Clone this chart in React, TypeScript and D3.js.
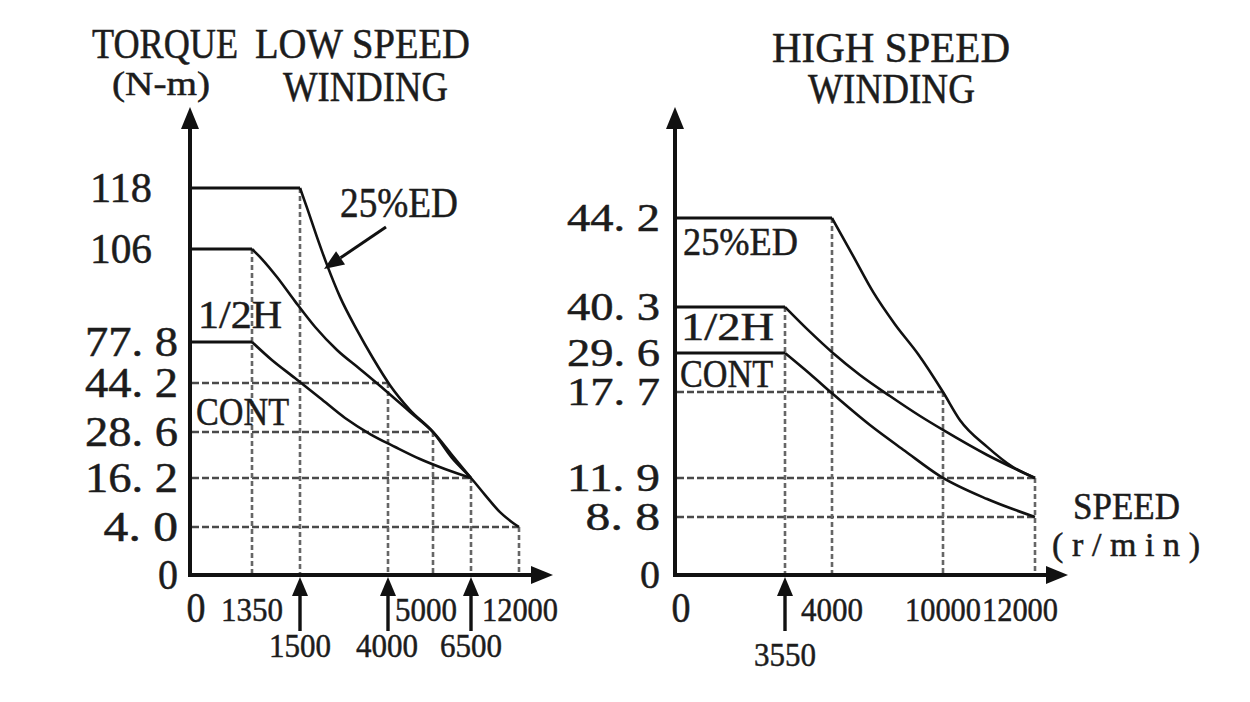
import React from "react";
import * as d3 from "d3";

type Pt = [number, number];

// ---------------- LOW SPEED WINDING ----------------
const lowSpeedTicks = [0, 1350, 1500, 4000, 5000, 6500, 12000];
const lowTorqueTicks = [0, 4.0, 16.2, 28.6, 44.2, 77.8, 106, 118];
const lowTorqueLabels = ["0", "4. 0", "16. 2", "28. 6", "44. 2", "77. 8", "106", "118"];
const lowSpeedLabels = [0, 1350, 5000, 12000];
const lowSpeedMarked = [1500, 4000, 6500];

const low25ED: Pt[] = [
  [0, 118], [1500, 118], [1700, 114.1], [1980, 108.4], [2270, 101.1], [2640, 91.4],
  [3120, 81.4], [3570, 64.7], [4040, 43.6], [4490, 35.6], [5000, 28.6], [5750, 21.6],
  [6500, 16.2], [8100, 12.0], [9820, 7.7], [11200, 5.2], [12000, 4.0],
];
const low12H: Pt[] = [
  [0, 106], [1350, 106], [1381, 102.95], [1428, 97.5], [1484, 90.2], [1930, 82.35],
  [2550, 71.25], [3200, 55.7], [3910, 41.98], [4490, 34.97], [5000, 28.6], [5750, 22.4],
  [6500, 16.2],
];
const lowCont: Pt[] = [
  [0, 77.8], [1350, 77.8], [1412, 63.05], [1484, 48.3], [2070, 39.43], [2780, 33.06],
  [3490, 28.06], [4160, 24.56], [4710, 21.32], [5470, 18.63], [6500, 16.2],
];
const lowHGuides: Pt[] = [[4000, 44.2], [5000, 28.6], [6500, 16.2], [12000, 4.0]];
const lowVGuides: Pt[] = [[1350, 106], [1500, 118], [4000, 44.2], [5000, 28.6], [6500, 16.2], [12000, 4.0]];

// ---------------- HIGH SPEED WINDING ----------------
const highSpeedTicks = [0, 3550, 4000, 10000, 12000];
const highTorqueTicks = [0, 8.8, 11.9, 17.7, 29.6, 40.3, 44.2];
const highTorqueLabels = ["0", "8. 8", "11. 9", "17. 7", "29. 6", "40. 3", "44. 2"];
const highSpeedLabels = [0, 4000, 10000, 12000];
const highSpeedMarked = [3550];

const high25ED: Pt[] = [
  [0, 44.2], [4000, 44.2], [5140, 42.54], [6220, 40.96], [7400, 36.3], [8650, 29.3],
  [10000, 17.7], [10370, 15.8], [10960, 14.0], [11520, 12.64], [12000, 11.9],
];
const high12H: Pt[] = [
  [0, 40.3], [3550, 40.3], [3790, 34.5], [4050, 29.6], [5510, 22.9], [7130, 17.43],
  [8760, 16.08], [10000, 15.14], [10960, 13.45], [12000, 11.9],
];
const highCont: Pt[] = [
  [0, 29.6], [3550, 29.6], [3790, 23.2], [4050, 17.56], [6050, 15.47], [7950, 13.72],
  [9840, 12.03], [10960, 10.23], [12000, 8.8],
];
const highHGuides: Pt[] = [[10000, 17.7], [12000, 11.9], [12000, 8.8]];
const highVGuides: Pt[] = [[3550, 40.3], [4000, 44.2], [10000, 17.7], [12000, 11.9]];

const FONT = "'Liberation Serif', 'DejaVu Serif', serif";
const INK = "#1c1c1c";

type TxtProps = {
  x: number; y: number; w?: number; size: number;
  anchor?: "start" | "middle" | "end"; children: React.ReactNode; fill?: string;
  adjust?: "spacing" | "spacingAndGlyphs";
};
const Txt = ({ x, y, w, size, anchor = "start", children, fill = INK, adjust = "spacingAndGlyphs" }: TxtProps) => (
  <text
    x={x}
    y={y}
    fontSize={size}
    fontFamily={FONT}
    textAnchor={anchor}
    fill={fill}
    stroke={fill}
    strokeWidth={0.5}
    textLength={w}
    lengthAdjust={w ? adjust : undefined}
    style={{ whiteSpace: "pre" }}
  >
    {children}
  </text>
);

type ChartCfg = {
  xTicks: number[]; xRange: number[];
  yTicks: number[]; yRange: number[];
  yLabels: string[]; yLabelGap: number; yLabelSize: number;
  xLabels: number[]; xMarked: number[];
  curves: Pt[][];
  hGuides: Pt[]; vGuides: Pt[];
  axisEnd: number; axisTop: number;
  row2Baseline: number; lastLabelShift: number;
};

function Chart({ c }: { c: ChartCfg }) {
  const x = d3.scaleLinear().domain(c.xTicks).range(c.xRange);
  const y = d3.scaleLinear().domain(c.yTicks).range(c.yRange);
  const X0 = x(0);
  const Y0 = y(0);

  const flatLine = d3.line<Pt>().x((p) => x(p[0])).y((p) => y(p[1]));
  const bendLine = d3.line<Pt>().x((p) => x(p[0])).y((p) => y(p[1])).curve(d3.curveMonotoneX);

  const digitW = (s: string) => (s.length >= 4 ? (s.length === 4 ? 62 : 76) : 20);

  return (
    <g>
      {/* dashed guides */}
      {c.hGuides.map((g, i) => (
        <line key={"h" + i} x1={X0 + 2} x2={x(g[0])} y1={y(g[1])} y2={y(g[1])}
          stroke="#4a4a4a" strokeWidth={2.5} strokeDasharray="7 3" />
      ))}
      {c.vGuides.map((g, i) => (
        <line key={"v" + i} x1={x(g[0])} x2={x(g[0])} y1={y(g[1])} y2={Y0 - 2}
          stroke="#666" strokeWidth={2.6} strokeDasharray="5 3" />
      ))}

      {/* curves */}
      {c.curves.map((pts, i) => (
        <g key={"c" + i}>
          <path d={flatLine(pts.slice(0, 2)) || ""} fill="none" stroke="#111" strokeWidth={3.2} />
          <path d={bendLine(pts.slice(1)) || ""} fill="none" stroke="#111" strokeWidth={2.6}
            strokeLinejoin="round" />
        </g>
      ))}

      {/* axes */}
      <line x1={X0} x2={X0} y1={Y0 + 2} y2={c.axisTop + 16} stroke="#111" strokeWidth={4} />
      <polygon points={`${X0},${c.axisTop} ${X0 - 9},${c.axisTop + 22} ${X0 + 9},${c.axisTop + 22}`} fill="#111" />
      <line x1={X0 - 2} x2={c.axisEnd - 16} y1={Y0} y2={Y0} stroke="#111" strokeWidth={4} />
      <polygon points={`${c.axisEnd},${Y0} ${c.axisEnd - 22},${Y0 - 9} ${c.axisEnd - 22},${Y0 + 9}`} fill="#111" />

      {/* y labels */}
      {c.yTicks.map((v, i) => {
        const lab = c.yLabels[i];
        const isInt3 = !lab.includes(".") && lab.length === 3;
        const w = lab === "0" ? 20 : isInt3 ? 62 : lab.length * 18.6;
        const endX = X0 - c.yLabelGap - (isInt3 ? 26 : 0);
        return (
          <Txt key={"y" + i} x={endX} y={y(v) + c.yLabelSize * 0.33} size={c.yLabelSize} w={w} anchor="end">{lab}</Txt>
        );
      })}

      {/* x labels row 1 */}
      {c.xLabels.map((v, i) => {
        const s = String(v);
        if (v === 0) {
          return <Txt key={"x" + i} x={X0 + 6} y={Y0 + 47} size={42} w={19} anchor="middle">{s}</Txt>;
        }
        const last = i === c.xLabels.length - 1;
        const cx = x(v) + (last ? c.lastLabelShift : 0) + (s === "5000" ? -7 : 0);
        return <Txt key={"x" + i} x={cx} y={Y0 + 46} size={34} w={digitW(s)} anchor="middle">{s}</Txt>;
      })}

      {/* marked speeds (arrows + labels row 2) */}
      {c.xMarked.map((v, i) => {
        const s = String(v);
        const px = x(v);
        return (
          <g key={"m" + i}>
            <line x1={px} x2={px} y1={Y0 + 16} y2={Y0 + 56} stroke="#111" strokeWidth={3.4} />
            <polygon points={`${px},${Y0 + 2} ${px - 8},${Y0 + 21} ${px + 8},${Y0 + 21}`} fill="#111" />
            <Txt x={px - (s === "4000" ? 1 : 0)} y={c.row2Baseline} size={34} w={digitW(s)} anchor="middle">{s}</Txt>
          </g>
        );
      })}
    </g>
  );
}

export default function App() {
  const lowCfg: ChartCfg = {
    xTicks: lowSpeedTicks, xRange: [190, 252, 300, 388, 433, 471, 519],
    yTicks: lowTorqueTicks, yRange: [575, 527, 478, 432, 383, 342, 249, 188],
    yLabels: lowTorqueLabels, yLabelGap: 12, yLabelSize: 42,
    xLabels: lowSpeedLabels, xMarked: lowSpeedMarked,
    curves: [low25ED, low12H, lowCont],
    hGuides: lowHGuides, vGuides: lowVGuides,
    axisEnd: 553, axisTop: 107, row2Baseline: 657, lastLabelShift: 1,
  };
  const highCfg: ChartCfg = {
    xTicks: highSpeedTicks, xRange: [675, 785, 832, 943, 1035],
    yTicks: highTorqueTicks, yRange: [575, 517, 478, 392, 353, 307, 218],
    yLabels: highTorqueLabels, yLabelGap: 15, yLabelSize: 40,
    xLabels: highSpeedLabels, xMarked: highSpeedMarked,
    curves: [high25ED, high12H, highCont],
    hGuides: highHGuides, vGuides: highVGuides,
    axisEnd: 1068, axisTop: 107, row2Baseline: 666, lastLabelShift: -15,
  };

  // pointer arrow for 25%ED (left chart)
  const tail: Pt = [386, 227];
  const tip: Pt = [324, 269];
  const dx = tip[0] - tail[0], dy = tip[1] - tail[1];
  const len = Math.hypot(dx, dy);
  const ux = dx / len, uy = dy / len;
  const bx = tip[0] - 20 * ux, by = tip[1] - 20 * uy;
  const nx = -uy, ny = ux;

  return (
    <svg width={1250} height={702} style={{ position: "absolute", left: 0, top: 0, background: "#fff" }}>
      <rect x={0} y={0} width={1250} height={702} fill="#fff" />

      {/* titles */}
      <Txt x={92} y={58} size={42} w={146}>TORQUE</Txt>
      <Txt x={255} y={58} size={42} w={215}>LOW SPEED</Txt>
      <Txt x={112} y={95} size={34} w={98}>(N-m)</Txt>
      <Txt x={283} y={101} size={42} w={165}>WINDING</Txt>
      <Txt x={772} y={62} size={42} w={238}>HIGH SPEED</Txt>
      <Txt x={808} y={103} size={42} w={167}>WINDING</Txt>

      <Chart c={lowCfg} />
      <Chart c={highCfg} />

      {/* curve labels */}
      <Txt x={340} y={217} size={42} w={118}>25%ED</Txt>
      <Txt x={198} y={328} size={40} w={84}>1/2H</Txt>
      <Txt x={196} y={425} size={40} w={93}>CONT</Txt>
      <Txt x={683} y={255} size={40} w={115}>25%ED</Txt>
      <Txt x={681} y={340} size={40} w={93}>1/2H</Txt>
      <Txt x={680} y={387} size={40} w={93}>CONT</Txt>

      <line x1={tail[0]} y1={tail[1]} x2={bx} y2={by} stroke="#111" strokeWidth={3} />
      <polygon
        points={`${tip[0]},${tip[1]} ${bx + 8 * nx},${by + 8 * ny} ${bx - 8 * nx},${by - 8 * ny}`}
        fill="#111"
      />

      {/* speed axis title */}
      <Txt x={1073} y={519} size={38} w={107}>SPEED</Txt>
      <Txt x={1052} y={556} size={34} w={148} adjust="spacing">(r/min)</Txt>
    </svg>
  );
}
